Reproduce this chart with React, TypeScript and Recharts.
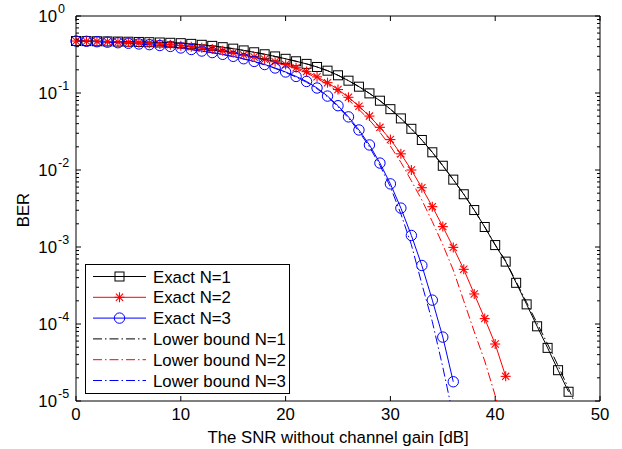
import { LineChart, Line, XAxis, YAxis, ReferenceArea, Legend } from 'recharts'

// SNR grid [dB]
const SNR_DB = [
  0, 1, 2, 3, 4, 5, 6, 7, 8, 9, 10, 11, 12, 13, 14, 15, 16, 17, 18, 19, 20, 21, 22, 23, 24,
  25, 26, 27, 28, 29, 30, 31, 32, 33, 34, 35, 36, 37, 38, 39, 40, 41, 42, 43, 44, 45, 46, 47, 48,
]

// BER values, stored as log10(BER)
const EXACT_N1 = [
  -0.325, -0.326, -0.328, -0.33, -0.332, -0.334, -0.337, -0.34, -0.344, -0.348,
  -0.353, -0.362, -0.374, -0.388, -0.405, -0.424, -0.447, -0.471, -0.497, -0.525,
  -0.556, -0.588, -0.622, -0.662, -0.71, -0.77, -0.84, -0.918, -1.005, -1.1,
  -1.21, -1.33, -1.465, -1.61, -1.77, -1.945, -2.125, -2.315, -2.52, -2.74,
  -2.975, -3.19, -3.465, -3.745, -4.03, -4.31, -4.6, -4.88,
]
const EXACT_N2 = [
  -0.325, -0.327, -0.33, -0.333, -0.337, -0.342, -0.348, -0.355, -0.363, -0.373,
  -0.385, -0.398, -0.413, -0.43, -0.452, -0.478, -0.505, -0.533, -0.562, -0.594,
  -0.63, -0.672, -0.722, -0.79, -0.866, -0.955, -1.056, -1.172, -1.3, -1.446,
  -1.605, -1.79, -2.0, -2.23, -2.476, -2.735, -3.005, -3.29, -3.61, -3.93,
  -4.26, -4.68,
]
const EXACT_N3 = [
  -0.325, -0.329, -0.334, -0.34, -0.347, -0.354, -0.363, -0.372, -0.383, -0.395,
  -0.415, -0.435, -0.455, -0.475, -0.498, -0.524, -0.555, -0.59, -0.63, -0.675,
  -0.727, -0.785, -0.85, -0.935, -1.04, -1.165, -1.31, -1.48, -1.675, -1.91,
  -2.18, -2.495, -2.85, -3.24, -3.69, -4.17, -4.75,
]
const BOUND_N1 = [
  -0.325, -0.326, -0.328, -0.33, -0.332, -0.334, -0.337, -0.34, -0.344, -0.348,
  -0.353, -0.362, -0.374, -0.388, -0.405, -0.424, -0.447, -0.471, -0.497, -0.525,
  -0.556, -0.588, -0.622, -0.662, -0.71, -0.77, -0.84, -0.918, -1.005, -1.1,
  -1.21, -1.33, -1.465, -1.61, -1.77, -1.945, -2.125, -2.315, -2.52, -2.74,
  -2.97, -3.18, -3.45, -3.72, -3.99, -4.26, -4.54, -4.84, -5.15,
]
const BOUND_N2 = [
  -0.325, -0.327, -0.33, -0.334, -0.338, -0.343, -0.349, -0.356, -0.365, -0.375,
  -0.387, -0.401, -0.416, -0.434, -0.456, -0.482, -0.51, -0.539, -0.569, -0.603,
  -0.64, -0.685, -0.74, -0.81, -0.89, -0.985, -1.09, -1.215, -1.35, -1.51,
  -1.69, -1.9, -2.14, -2.39, -2.67, -2.97, -3.3, -3.7, -4.1, -4.48,
  -4.93, -5.4,
]
const BOUND_N3 = [
  -0.325, -0.329, -0.334, -0.34, -0.347, -0.355, -0.364, -0.373, -0.384, -0.397,
  -0.417, -0.437, -0.458, -0.478, -0.501, -0.528, -0.559, -0.595, -0.635, -0.681,
  -0.734, -0.793, -0.86, -0.945, -1.05, -1.18, -1.325, -1.5, -1.7, -1.94,
  -2.22, -2.57, -2.97, -3.48, -3.97, -4.56, -5.2,
]

const X_TICKS = [0, 10, 20, 30, 40, 50]
const Y_DECADES = [-5, -4, -3, -2, -1, 0]
const MINOR_STEPS = [2, 3, 4, 5, 6, 7, 8, 9]

const Y_TICKS: number[] = []
Y_DECADES.forEach((d) => {
  Y_TICKS.push(10 ** d)
  if (d < 0) MINOR_STEPS.forEach((m) => Y_TICKS.push(m * 10 ** d))
})

const toBer = (v: number | undefined) => (v === undefined ? undefined : 10 ** v)

const data = SNR_DB.map((snr, i) => ({
  snr,
  exact1: toBer(EXACT_N1[i]),
  exact2: toBer(EXACT_N2[i]),
  exact3: toBer(EXACT_N3[i]),
  bound1: toBer(BOUND_N1[i]),
  bound2: toBer(BOUND_N2[i]),
  bound3: toBer(BOUND_N3[i]),
}))

const FONT = '"Liberation Sans", Arial, sans-serif'
const FONT_SIZE = 16.8
const PLOT_W = 524
const PLOT_H = 385
const DASH_DOT = '9 3 1.5 3'
const RED = '#ff0000'
const BLUE = '#0000ff'

function SquareMark({ cx, cy }: { cx: number; cy: number }) {
  return <rect x={cx - 4.5} y={cy - 4.5} width={9} height={9} fill="none" stroke="#000" strokeWidth={1} />
}

function StarMark({ cx, cy }: { cx: number; cy: number }) {
  const r = 5
  const d = 3.6
  return (
    <g stroke={RED} strokeWidth={1.1}>
      <line x1={cx - r} y1={cy} x2={cx + r} y2={cy} />
      <line x1={cx} y1={cy - r} x2={cx} y2={cy + r} />
      <line x1={cx - d} y1={cy - d} x2={cx + d} y2={cy + d} />
      <line x1={cx - d} y1={cy + d} x2={cx + d} y2={cy - d} />
    </g>
  )
}

function CircleMark({ cx, cy }: { cx: number; cy: number }) {
  return <circle cx={cx} cy={cy} r={5.2} fill="none" stroke={BLUE} strokeWidth={1} />
}

const markerDot = (Mark: typeof SquareMark, name: string) => (p: any) => {
  if (p.cx == null || p.cy == null || p.value == null) return <g key={`${name}-${p.index}`} />
  return (
    <g key={`${name}-${p.index}`}>
      <Mark cx={p.cx} cy={p.cy} />
    </g>
  )
}

function XTick({ x, y, payload }: any) {
  return (
    <g>
      <line x1={x} x2={x} y1={y} y2={y - 5} stroke="#000" />
      <line x1={x} x2={x} y1={y - PLOT_H} y2={y - PLOT_H + 5} stroke="#000" />
      <text x={x} y={y + 19} textAnchor="middle" fontFamily={FONT} fontSize={FONT_SIZE} fill="#000">
        {payload.value}
      </text>
    </g>
  )
}

function YTick({ x, y, payload }: any) {
  const lg = Math.log10(payload.value)
  const exp = Math.round(lg)
  const major = Math.abs(lg - exp) < 1e-6
  const len = major ? 5 : 3
  return (
    <g>
      <line x1={x} x2={x + len} y1={y} y2={y} stroke="#000" />
      <line x1={x + PLOT_W - len} x2={x + PLOT_W} y1={y} y2={y} stroke="#000" />
      {major && (
        <g fontFamily={FONT} fill="#000">
          <text x={x - 19} y={y + 6} textAnchor="end" fontSize={FONT_SIZE}>
            10
          </text>
          <text x={x - 18} y={y - 3} fontSize={12.5}>
            {exp}
          </text>
        </g>
      )}
    </g>
  )
}

function XTitle(props: any) {
  const vb = props.viewBox ?? { x: 76, y: 401, width: PLOT_W }
  return (
    <text x={vb.x + vb.width / 2} y={vb.y + 42} textAnchor="middle" fontFamily={FONT} fontSize={FONT_SIZE} fill="#000">
      The SNR without channel gain [dB]
    </text>
  )
}

function YTitle() {
  return (
    <text x={29} y={210} transform="rotate(-90, 29, 210)" textAnchor="middle" fontFamily={FONT} fontSize={FONT_SIZE} fill="#000">
      BER
    </text>
  )
}

const LEGEND_ITEMS = [
  { label: 'Exact N=1', color: '#000', dash: undefined, Mark: SquareMark },
  { label: 'Exact N=2', color: RED, dash: undefined, Mark: StarMark },
  { label: 'Exact N=3', color: BLUE, dash: undefined, Mark: CircleMark },
  { label: 'Lower bound N=1', color: '#000', dash: DASH_DOT, Mark: null },
  { label: 'Lower bound N=2', color: RED, dash: DASH_DOT, Mark: null },
  { label: 'Lower bound N=3', color: BLUE, dash: DASH_DOT, Mark: null },
]

function LegendBox() {
  return (
    <svg width={205} height={130} style={{ display: 'block' }}>
      <rect x={0.5} y={0.5} width={204} height={129} fill="#fff" stroke="#000" />
      {LEGEND_ITEMS.map((it, i) => {
        const cy = 12.5 + i * 20.8
        return (
          <g key={it.label}>
            <line x1={8} x2={61} y1={cy} y2={cy} stroke={it.color} strokeDasharray={it.dash} />
            {it.Mark && <it.Mark cx={34.5} cy={cy} />}
            <text x={68} y={cy + 6} fontFamily={FONT} fontSize={FONT_SIZE} fill="#000">
              {it.label}
            </text>
          </g>
        )
      })}
    </svg>
  )
}

export default function App() {
  return (
    <div style={{ position: 'absolute', left: 0, top: 0, width: 622, height: 449, background: '#fff' }}>
      <LineChart width={622} height={449} data={data} margin={{ top: 16, right: 22, left: 8, bottom: 0 }}>
        <XAxis
          dataKey="snr"
          type="number"
          domain={[0, 50]}
          ticks={X_TICKS}
          interval={0}
          height={48}
          axisLine={false}
          tickLine={false}
          tickSize={0}
          tickMargin={0}
          tick={(p: any) => <XTick {...p} />}
          label={<XTitle />}
        />
        <YAxis
          type="number"
          scale="log"
          domain={[1e-5, 1]}
          allowDataOverflow
          ticks={Y_TICKS}
          interval={0}
          width={68}
          axisLine={false}
          tickLine={false}
          tickSize={0}
          tickMargin={0}
          tick={(p: any) => <YTick {...p} />}
          label={<YTitle />}
        />
        <ReferenceArea x1={0} x2={50} y1={1e-5} y2={1} fill="none" stroke="#000" strokeWidth={1} ifOverflow="visible" />
        <Line dataKey="bound1" stroke="#000" strokeWidth={1} strokeDasharray={DASH_DOT} dot={false} isAnimationActive={false} />
        <Line dataKey="bound2" stroke={RED} strokeWidth={1} strokeDasharray={DASH_DOT} dot={false} isAnimationActive={false} />
        <Line dataKey="bound3" stroke={BLUE} strokeWidth={1} strokeDasharray={DASH_DOT} dot={false} isAnimationActive={false} />
        <Line dataKey="exact1" stroke="#000" strokeWidth={1} dot={markerDot(SquareMark, 'sq')} activeDot={false} isAnimationActive={false} />
        <Line dataKey="exact2" stroke={RED} strokeWidth={1} dot={markerDot(StarMark, 'st')} activeDot={false} isAnimationActive={false} />
        <Line dataKey="exact3" stroke={BLUE} strokeWidth={1} dot={markerDot(CircleMark, 'ci')} activeDot={false} isAnimationActive={false} />
        <Legend
          layout="vertical"
          align="center"
          verticalAlign="middle"
          wrapperStyle={{ left: 85, top: 264, width: 205, height: 130 }}
          content={() => <LegendBox />}
        />
      </LineChart>
    </div>
  )
}
